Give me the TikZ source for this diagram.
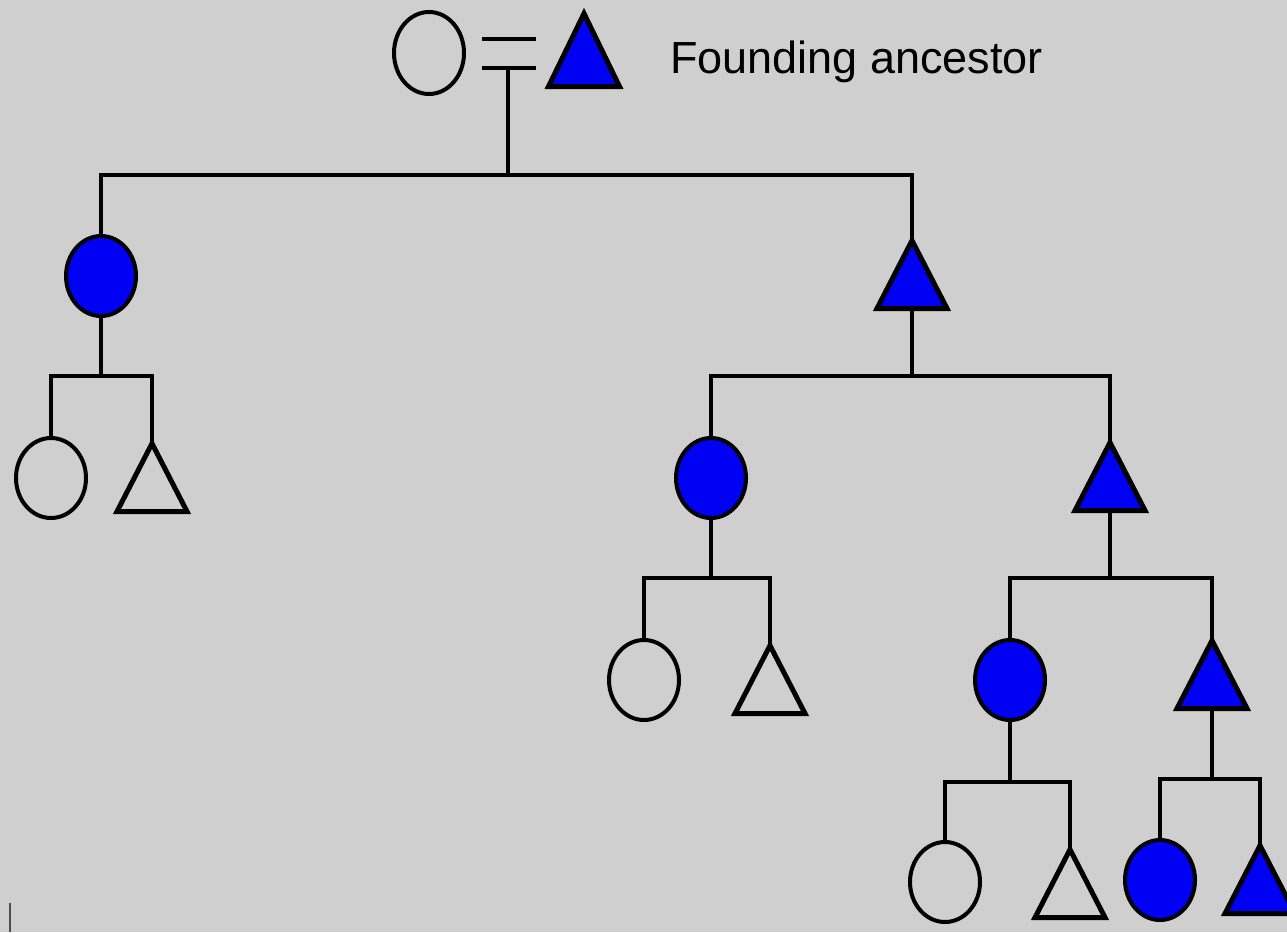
\documentclass[tikz,border=0pt]{standalone}
\usepackage{fontspec}
\setmainfont{Liberation Sans}
\usetikzlibrary{shapes.geometric}
\definecolor{bg}{RGB}{207,207,207}
\definecolor{affblue}{RGB}{0,0,245}
\begin{document}
\begin{tikzpicture}[x=1pt,y=-1pt,line width=4.5pt,
  fem/.style={ellipse,draw=black,line width=4pt,minimum width=70pt,minimum height=80pt,inner sep=0pt,outer sep=0pt},
  mal/.style={isosceles triangle,isosceles triangle stretches,shape border rotate=90,draw=black,line width=5pt,
     minimum width=70pt,minimum height=68pt,inner sep=0pt,outer sep=0pt,anchor=apex,miter limit=10},
  aff/.style={fill=affblue},
  link/.style={draw=black,line width=4.5pt}]
\fill[bg] (0,0) rectangle (1287,932);
\useasboundingbox (0,0) rectangle (1287,932);
\begin{scope}
\clip (0,0) rectangle (1287,932);
% founders
\node[fem,minimum height=82pt] (f0) at (429,53) {};
\node[mal,aff,minimum height=73pt,minimum width=71pt] (m0) at (584,13.5) {};
\coordinate (ma) at (482,39); \coordinate (mb) at (536,39);
\coordinate (mc) at (482,68); \coordinate (md) at (536,68);
\coordinate (mm) at (508,68); \coordinate (j0) at (508,175);
\draw[link] (ma) -- (mb);
\draw[link] (mc) -- (md);
\draw[link] (mm) -- (j0);
\node[anchor=base west,inner sep=0pt,font=\fontsize{45}{54}\selectfont] (lbl) at (668,73) {Founding ancestor};
% generation 1
\node[fem,aff] (A1) at (101,276) {};
\node[mal,aff] (A2) at (912,240.5) {};
\draw[link] (A1.north) |- (j0) -| (A2.apex);
% generation 2
\node[fem] (B1) at (51,478) {};
\node[mal] (B2) at (152,443.5) {};
\coordinate (j1) at (101,376);
\draw[link] (A1.south) -- (j1);
\draw[link] (B1.north) |- (j1) -| (B2.apex);
\node[fem,aff] (C1) at (711,478) {};
\node[mal,aff] (C2) at (1110,442.5) {};
\coordinate (j2) at (912,376);
\draw[link] (A2.lower side) -- (j2);
\draw[link] (C1.north) |- (j2) -| (C2.apex);
% generation 3
\node[fem] (D1) at (644,680) {};
\node[mal] (D2) at (770,645.5) {};
\coordinate (j3) at (711,578);
\draw[link] (C1.south) -- (j3);
\draw[link] (D1.north) |- (j3) -| (D2.apex);
\node[fem,aff] (E1) at (1010,680) {};
\node[mal,aff] (E2) at (1212,640.5) {};
\coordinate (j4) at (1110,578);
\draw[link] (C2.lower side) -- (j4);
\draw[link] (E1.north) |- (j4) -| (E2.apex);
% generation 4
\node[fem] (F1) at (945,882) {};
\node[mal] (F2) at (1070,849.5) {};
\coordinate (j5) at (1010,782);
\draw[link] (E1.south) -- (j5);
\draw[link] (F1.north) |- (j5) -| (F2.apex);
\node[fem,aff] (G1) at (1160,880) {};
\node[mal,aff] (G2) at (1260,845.5) {};
\coordinate (j6) at (1212,779);
\draw[link] (E2.lower side) -- (j6);
\draw[link] (G1.north) |- (j6) -| (G2.apex);
% stray mark
\coordinate (s1) at (10,903); \coordinate (s2) at (10,932);
\draw[line width=2pt,black!70] (s1) -- (s2);
\end{scope}
\end{tikzpicture}
\end{document}
